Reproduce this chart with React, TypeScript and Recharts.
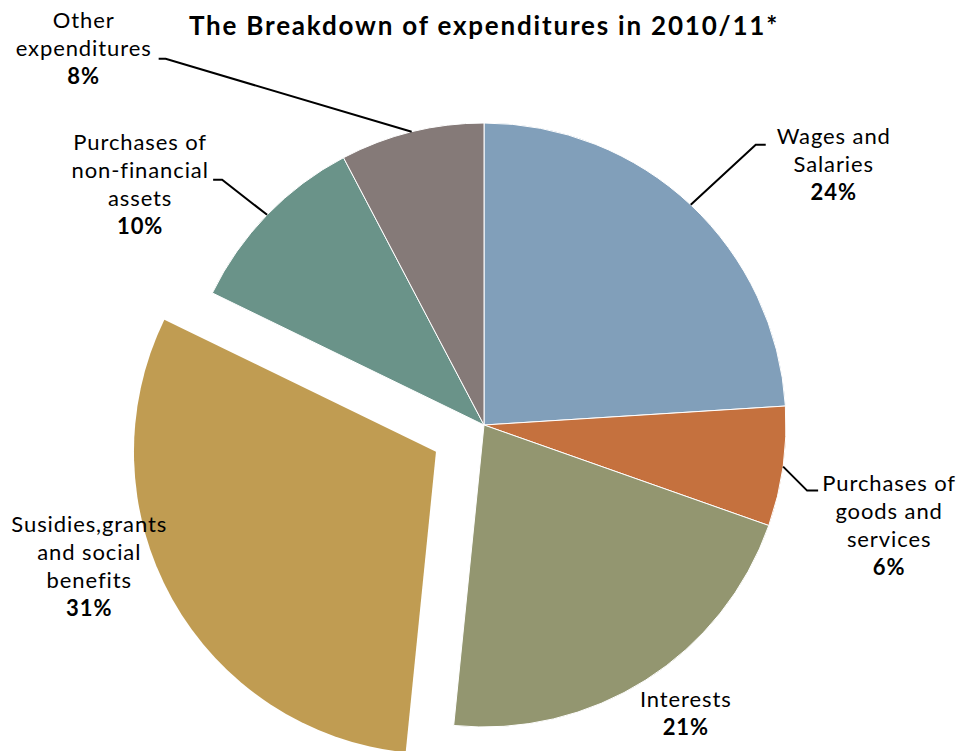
import React from "react";
import { PieChart, Pie, Cell } from "recharts";

const categories = [
  "Wages and Salaries",
  "Purchases of goods and services",
  "Interests",
  "Susidies,grants and social benefits",
  "Purchases of non-financial assets",
  "Other expenditures",
];
const shares = [24.0, 6.4, 21.2, 30.6, 10.1, 7.7];
const labelLines = [
  ["Wages and", "Salaries"],
  ["Purchases of", "goods and", "services"],
  ["Interests"],
  ["Susidies,grants", "and social", "benefits"],
  ["Purchases of", "non-financial", "assets"],
  ["Other", "expenditures"],
];
const colors = ["#819FBA", "#C5713E", "#939670", "#C09C52", "#6A9389", "#857A78"];

const data = categories.map((name, i) => ({ name, value: shares[i] }));

const EXPLODED = 3;
const EXPLODE_DIST = 55;
const CX = 484;
const CY = 425;
const R = 302;
const FONT = "Lato, 'Open Sans', sans-serif";
const LINE_H = 28;

// leader/label layout relative to the slice's outer edge at mid angle
// elbow: [dx, dy], tail: horizontal length (signed), text: [dx, dy] of first line centre
const labelLayout = [
  { elbow: [65, -60], tail: 10, text: [143, -68] },
  { elbow: [24, 24], tail: 11, text: [106, 17] },
  { elbow: null, tail: 0, text: [40, 20] },
  { elbow: null, tail: 0, text: [-83, -74] },
  { elbow: [-45, -35], tail: -9, text: [-127, -72] },
  { elbow: [-246, -73], tail: -7, text: [-328, -111] },
];

const RAD = Math.PI / 180;

function explodeOffset(midAngle: number) {
  return {
    dx: EXPLODE_DIST * Math.cos(-midAngle * RAD),
    dy: EXPLODE_DIST * Math.sin(-midAngle * RAD),
  };
}

function renderLabel(props: any) {
  const { cx, cy, midAngle, outerRadius, index, value } = props;
  let ox = cx;
  let oy = cy;
  if (index === EXPLODED) {
    const o = explodeOffset(midAngle);
    ox += o.dx;
    oy += o.dy;
  }
  const sx = ox + outerRadius * Math.cos(-midAngle * RAD);
  const sy = oy + outerRadius * Math.sin(-midAngle * RAD);
  const lay = labelLayout[index];
  const lines = labelLines[index];
  const tx = sx + lay.text[0];
  const ty = sy + lay.text[1];
  let path = null;
  if (lay.elbow) {
    const ex = sx + lay.elbow[0];
    const ey = sy + lay.elbow[1];
    path = (
      <polyline
        points={`${sx},${sy} ${ex},${ey} ${ex + lay.tail},${ey}`}
        fill="none"
        stroke="#000"
        strokeWidth={2}
      />
    );
  }
  return (
    <g key={`lbl-${index}`}>
      {path}
      <text
        x={tx}
        y={ty}
        textAnchor="middle"
        fontFamily={FONT}
        fontSize={22}
        letterSpacing={0.9}
        fill="#000"
      >
        {lines.map((l, i) => (
          <tspan key={i} x={tx} dy={i === 0 ? 7 : LINE_H}>
            {l}
          </tspan>
        ))}
        <tspan x={tx} dy={LINE_H} fontWeight="bold">
          {Math.round(value)}%
        </tspan>
      </text>
    </g>
  );
}

export default function App() {
  const total = shares.reduce((a, b) => a + b, 0);
  const before = shares.slice(0, EXPLODED).reduce((a, b) => a + b, 0);
  const mid = 90 - ((before + shares[EXPLODED] / 2) / total) * 360;
  const off = explodeOffset(mid);
  return (
    <div style={{ position: "fixed", left: 0, top: 0, width: 959, height: 751, background: "#fff" }}>
      <div
        style={{
          position: "absolute",
          left: 0,
          top: 9,
          width: 968,
          textAlign: "center",
          fontFamily: FONT,
          fontWeight: "bold",
          fontSize: 26,
          letterSpacing: 1.8,
          color: "#000",
        }}
      >
        The Breakdown of expenditures in 2010/11*
      </div>
      <PieChart width={959} height={751} margin={{ top: 0, right: 0, bottom: 0, left: 0 }}>
        <Pie
          data={data}
          dataKey="value"
          nameKey="name"
          cx={CX}
          cy={CY}
          outerRadius={R}
          startAngle={90}
          endAngle={-270}
          stroke="#fff"
          strokeWidth={1}
          label={renderLabel}
          labelLine={false}
          isAnimationActive={false}
        >
          {data.map((d, i) => (
            <Cell key={d.name} fill={i === EXPLODED ? "transparent" : colors[i]} stroke={i === EXPLODED ? "none" : "#fff"} />
          ))}
        </Pie>
        <Pie
          data={data}
          dataKey="value"
          nameKey="name"
          cx={CX + off.dx}
          cy={CY + off.dy}
          outerRadius={R}
          startAngle={90}
          endAngle={-270}
          isAnimationActive={false}
        >
          {data.map((d, i) => (
            <Cell key={d.name} fill={i === EXPLODED ? colors[i] : "transparent"} stroke="none" />
          ))}
        </Pie>
      </PieChart>
    </div>
  );
}
